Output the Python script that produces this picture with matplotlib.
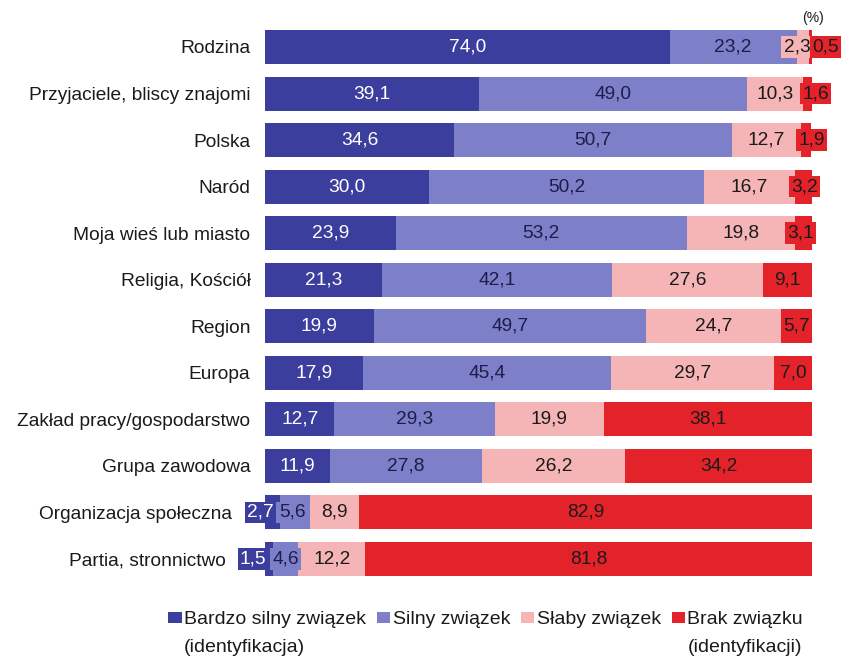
import matplotlib
matplotlib.use("Agg")
import matplotlib.pyplot as plt
import numpy as np
from matplotlib.patches import Patch

plt.rcParams['font.family'] = ['Liberation Sans', 'DejaVu Sans']

categories = ["Rodzina", "Przyjaciele, bliscy znajomi", "Polska", "Naród",
              "Moja wieś lub miasto", "Religia, Kościół", "Region", "Europa",
              "Zakład pracy/gospodarstwo", "Grupa zawodowa",
              "Organizacja społeczna", "Partia, stronnictwo"]
very_strong = [74.0, 39.1, 34.6, 30.0, 23.9, 21.3, 19.9, 17.9, 12.7, 11.9, 2.7, 1.5]
strong = [23.2, 49.0, 50.7, 50.2, 53.2, 42.1, 49.7, 45.4, 29.3, 27.8, 5.6, 4.6]
weak = [2.3, 10.3, 12.7, 16.7, 19.8, 27.6, 24.7, 29.7, 19.9, 26.2, 8.9, 12.2]
no_link = [0.5, 1.6, 1.9, 3.2, 3.1, 9.1, 5.7, 7.0, 38.1, 34.2, 82.9, 81.8]

series_names = ["Bardzo silny związek", "Silny związek", "Słaby związek", "Brak związku"]
second_lines = {0: "(identyfikacja)", 3: "(identyfikacji)"}
colors = ["#3c3e9e", "#7d80c8", "#f5b4b6", "#e4222a"]
text_colors = ["white", "#1b1d4a", "#1a1a1a", "#1a1a1a"]

# label tweaks for narrow segments: (row, series) -> horizontal offset in pixels
small_label_offsets = {(0, 2): -6, (0, 3): 15, (1, 3): 8, (2, 3): 5, (3, 3): 1,
                       (4, 3): -3, (10, 0): -12, (10, 1): -3, (11, 0): -16, (11, 1): 0}
# extra tick-label padding (points) for rows whose labels stick out left
row_label_pad = {10: 24, 11: 28.5}

W, H = 851, 656
fig = plt.figure(figsize=(W / 100, H / 100), dpi=100)
ax = fig.add_axes([265 / W, 1 - 582.3 / H, 547 / W, 558.6 / H])

data = [very_strong, strong, weak, no_link]
y = np.arange(len(categories))
left = np.zeros(len(categories))
for s, vals in enumerate(data):
    vals = np.array(vals)
    ax.barh(y, vals, left=left, height=0.73, color=colors[s], linewidth=0)
    for i, v in enumerate(vals):
        cx = left[i] + v / 2
        lab = f"{v:.1f}".replace(".", ",")
        if (i, s) in small_label_offsets:
            ax.annotate(lab, (cx, y[i]), xytext=(small_label_offsets[(i, s)], 0),
                        textcoords="offset pixels", ha="center", va="center",
                        fontsize=13.8, color=text_colors[s], zorder=5,
                        bbox=dict(boxstyle="square,pad=0.12", facecolor=colors[s],
                                  edgecolor="none"))
        else:
            ax.text(cx, y[i], lab, ha="center", va="center", fontsize=13.8,
                    color=text_colors[s], zorder=5)
    left += vals

ax.set_xlim(0, 100)
ax.set_ylim(len(categories) - 0.5, -0.5)
ax.set_yticks(y)
ax.set_yticklabels(categories, fontsize=13.8, color="#1a1a1a")
ax.tick_params(axis="y", length=0, pad=10.5)
ax.set_xticks([])
for i, tick in enumerate(ax.yaxis.get_major_ticks()):
    if i in row_label_pad:
        tick.set_pad(row_label_pad[i])
for sp in ax.spines.values():
    sp.set_visible(False)

fig.text(813 / W, 1 - 18 / H, "(%)", ha="center", va="center", fontsize=10,
         color="#1a1a1a")

handles = [Patch(facecolor=c, edgecolor="none") for c in colors]
leg = fig.legend(handles, series_names, loc="upper left",
                 bbox_to_anchor=(168 / W, 1 - 611 / H), ncol=4, frameon=False,
                 fontsize=14, handlelength=0.7, handleheight=0.5,
                 handletextpad=0.12, columnspacing=0.55, borderpad=0,
                 borderaxespad=0)
for t in leg.get_texts():
    t.set_color("#1a1a1a")

fig.canvas.draw()
renderer = fig.canvas.get_renderer()
for idx, txt in second_lines.items():
    bb = leg.get_texts()[idx].get_window_extent(renderer)
    fig.text(bb.x0 / W, 1 - 647 / H, txt, ha="left", va="center", fontsize=14,
             color="#1a1a1a")

fig.savefig("out.png", dpi=100)
